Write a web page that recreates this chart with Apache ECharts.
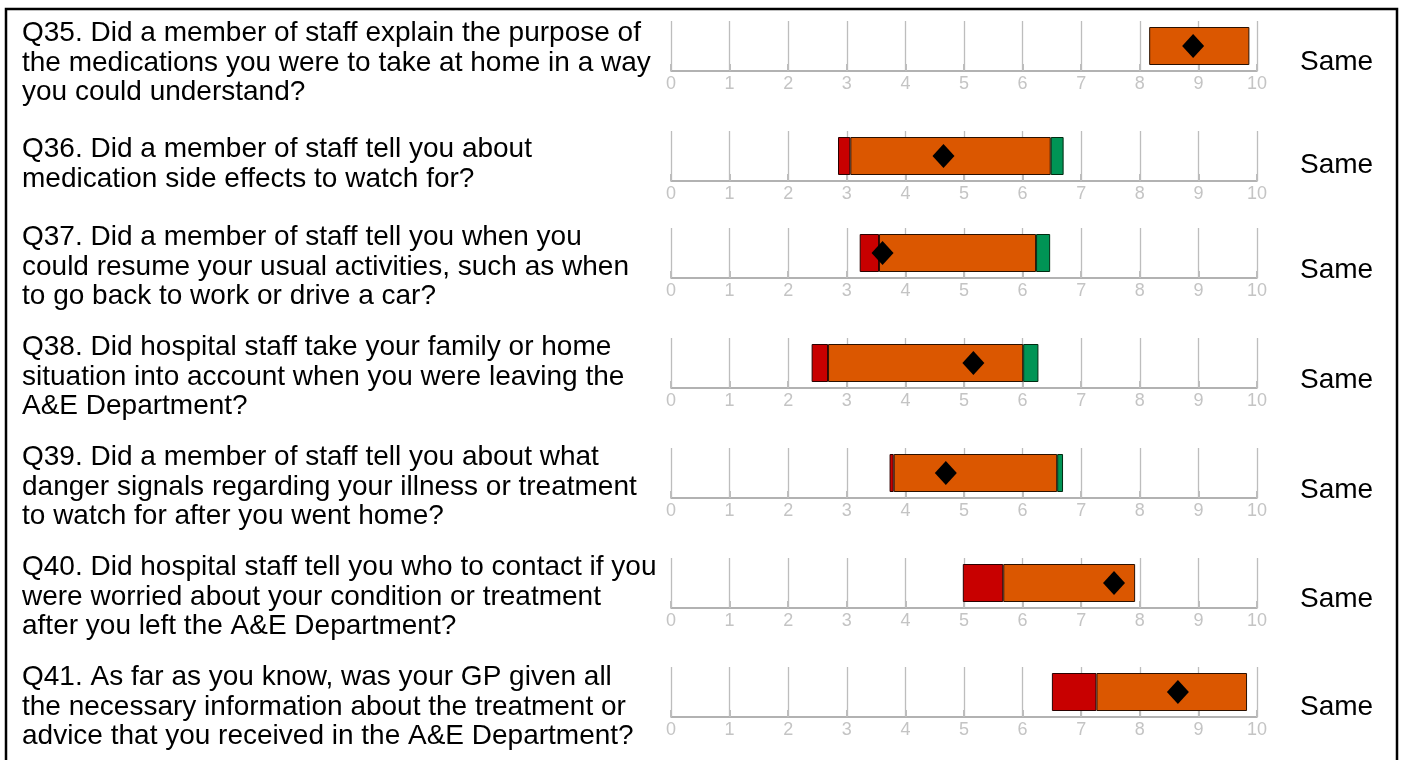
<!DOCTYPE html>
<html>
<head>
<meta charset="utf-8">
<script src="https://cdn.jsdelivr.net/npm/echarts@6/dist/echarts.min.js"></script>
<style>
html,body{margin:0;padding:0;background:#fff;}
#chart{width:1401px;height:760px;}
</style>
</head>
<body>
<div id="chart"></div>
<script>
// ---- data ----
var questions = [
  "Q35. Did a member of staff explain the purpose of\nthe medications you were to take at home in a way\nyou could understand?",
  "Q36. Did a member of staff tell you about\nmedication side effects to watch for?",
  "Q37. Did a member of staff tell you when you\ncould resume your usual activities, such as when\nto go back to work or drive a car?",
  "Q38. Did hospital staff take your family or home\nsituation into account when you were leaving the\nA&E Department?",
  "Q39. Did a member of staff tell you about what\ndanger signals regarding your illness or treatment\nto watch for after you went home?",
  "Q40. Did hospital staff tell you who to contact if you\nwere worried about your condition or treatment\nafter you left the A&E Department?",
  "Q41. As far as you know, was your GP given all\nthe necessary information about the treatment or\nadvice that you received in the A&E Department?"
];
var rangeMin      = [8.16, 2.85, 3.22, 2.40, 3.73, 4.98, 6.50];
var lowThreshold  = [8.16, 3.06, 3.55, 2.68, 3.80, 5.67, 7.26];
var highThreshold = [9.87, 6.48, 6.23, 6.01, 6.59, 7.92, 9.83];
var rangeMax      = [9.87, 6.70, 6.47, 6.27, 6.69, 7.92, 9.83];
var trustScore    = [8.91, 4.65, 3.61, 5.16, 4.69, 7.56, 8.65];
var comparison    = ["Same", "Same", "Same", "Same", "Same", "Same", "Same"];
var tickLabels    = ["0","1","2","3","4","5","6","7","8","9","10"];

// ---- layout ----
var axisY    = [71, 181, 278, 388, 498, 608, 717];
var textTop  = [19, 135, 223, 333, 443, 553, 663];
var sameMid  = [62, 165, 270, 380, 490, 599, 707];
var lineH = 29.5;
var FONT = "'Liberation Sans', Arial, sans-serif";

var grids = [], xAxes = [], yAxes = [], series = [], graphics = [];
function seg(v){ return v > 0.0001 ? +v.toFixed(3) : '-'; }

for (var i = 0; i < questions.length; i++) {
  grids.push({left: 671, width: 586, top: axisY[i] - 50, height: 50});
  xAxes.push({
    type: 'value', gridIndex: i, min: 0, max: 10, interval: 1,
    axisLine: {show: true, lineStyle: {color: '#999999', width: 1.5}},
    axisTick: {show: true, inside: true, length: 7, lineStyle: {color: '#bdbdbd', width: 2}},
    splitLine: {show: true, lineStyle: {color: '#bdbdbd', width: 1.3}},
    axisLabel: {color: '#c4c4c4', fontSize: 18, fontFamily: FONT, margin: 4,
      formatter: function(v){ return tickLabels[Math.round(v)]; }}
  });
  yAxes.push({type: 'category', gridIndex: i, data: ['r'], show: false});
  var st = 's' + i;
  series.push({type: 'bar', xAxisIndex: i, yAxisIndex: i, stack: st, barWidth: 38,
    itemStyle: {color: 'transparent'}, silent: true, data: [rangeMin[i]]});
  series.push({type: 'bar', xAxisIndex: i, yAxisIndex: i, stack: st, barWidth: 38,
    itemStyle: {color: '#c80000', borderColor: '#2a0000', borderWidth: 1},
    data: [seg(lowThreshold[i] - rangeMin[i])]});
  series.push({type: 'bar', xAxisIndex: i, yAxisIndex: i, stack: st, barWidth: 38,
    itemStyle: {color: '#db5700', borderColor: '#2a1000', borderWidth: 1},
    data: [seg(highThreshold[i] - lowThreshold[i])]});
  series.push({type: 'bar', xAxisIndex: i, yAxisIndex: i, stack: st, barWidth: 38,
    itemStyle: {color: '#009455', borderColor: '#002a10', borderWidth: 1},
    data: [seg(rangeMax[i] - highThreshold[i])]});
  series.push({type: 'scatter', xAxisIndex: i, yAxisIndex: i, symbol: 'diamond',
    symbolSize: [22, 24], itemStyle: {color: '#000', opacity: 1}, z: 5,
    data: [[trustScore[i], 0]]});

  graphics.push({type: 'text', left: 22, top: textTop[i],
    style: {text: questions[i], font: '28px ' + FONT, fill: '#000', lineHeight: lineH}});
  graphics.push({type: 'text', left: 1300, top: sameMid[i] - lineH / 2,
    style: {text: comparison[i], font: '28px ' + FONT, fill: '#000', lineHeight: lineH}});
}
graphics.push({type: 'rect', shape: {x: 6, y: 9, width: 1391, height: 800},
  style: {fill: 'none', stroke: '#000', lineWidth: 2.5}, z: 10});

var chart = echarts.init(document.getElementById('chart'), null, {renderer: 'canvas'});
chart.setOption({
  animation: false,
  backgroundColor: '#fff',
  grid: grids, xAxis: xAxes, yAxis: yAxes, series: series,
  graphic: graphics
});
</script>
</body>
</html>
